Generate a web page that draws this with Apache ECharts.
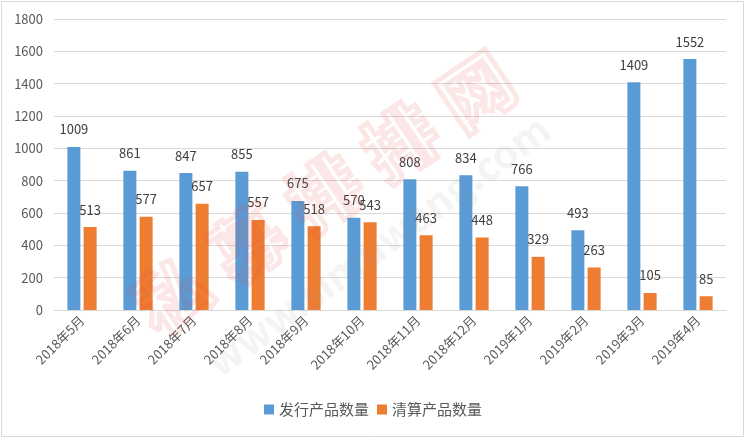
<!DOCTYPE html>
<html><head><meta charset="utf-8">
<script src="https://cdn.jsdelivr.net/npm/echarts@6/dist/echarts.min.js"></script>
<style>html,body{margin:0;padding:0;background:#fff}#c{width:746px;height:439px}</style>
</head><body><div id="c"></div>
<script>
const categories = ['2018年5月','2018年6月','2018年7月','2018年8月','2018年9月','2018年10月','2018年11月','2018年12月','2019年1月','2019年2月','2019年3月','2019年4月'];
const issued = [1009, 861, 847, 855, 675, 570, 808, 834, 766, 493, 1409, 1552];
const cleared = [513, 577, 657, 557, 518, 543, 463, 448, 329, 263, 105, 85];
const seriesNames = ['发行产品数量', '清算产品数量'];
const watermarkChars = ['私', '募', '排', '排', '网'];

const font = '"Noto Sans CJK SC", "DejaVu Sans", sans-serif';
const chart = echarts.init(document.getElementById('c'));
const ang = 34 * Math.PI / 180;
const wm = watermarkChars.map((ch, i) => ({
  type: 'text', x: 172 + i * 76, y: 295 - i * 51, rotation: ang, z: 100, silent: true,
  style: { text: ch, fontSize: 72, fontWeight: 'bold', fontFamily: font,
    align: 'center', verticalAlign: 'middle',
    fill: 'rgba(255,255,255,0)', stroke: 'rgba(235,70,70,0.13)', lineWidth: 5 }
}));
chart.setOption({
  animation: false,
  textStyle: { fontFamily: font },
  grid: { left: 54, right: 20, top: 19, bottom: 129 },
  legend: {
    bottom: 17, left: 'center', itemWidth: 10, itemHeight: 10, itemGap: 8,
    icon: 'rect',
    textStyle: { fontSize: 15, color: '#595959', fontFamily: font },
    data: seriesNames
  },
  xAxis: {
    type: 'category', data: categories,
    axisLine: { lineStyle: { color: '#D9D9D9' } },
    axisTick: { length: 5, lineStyle: { color: '#D9D9D9' } },
    axisLabel: { rotate: 45, fontSize: 13, color: '#595959', margin: 8, interval: 0 }
  },
  yAxis: {
    type: 'value', min: 0, max: 1800, interval: 200,
    axisLine: { show: false }, axisTick: { show: false },
    splitLine: { lineStyle: { color: '#D9D9D9' } },
    axisLabel: { fontSize: 13, color: '#595959', margin: 11, formatter: v => String(v) }
  },
  series: [
    { name: seriesNames[0], type: 'bar', data: issued, barWidth: 13, barGap: '25%',
      itemStyle: { color: '#5B9BD5' },
      label: { show: true, position: 'top', distance: 11, fontSize: 13, color: '#404040' } },
    { name: seriesNames[1], type: 'bar', data: cleared, barWidth: 13,
      itemStyle: { color: '#ED7D31' },
      label: { show: true, position: 'top', distance: 11, fontSize: 13, color: '#404040' } }
  ],
  graphic: [
    { type: 'rect', shape: { x: 1.5, y: 1.5, width: 742, height: 435 },
      style: { fill: 'none', stroke: '#D9D9D9', lineWidth: 1 }, silent: true, z: 0 }
  ].concat(wm).concat([
    { type: 'text', x: 378, y: 245, rotation: 36 * Math.PI / 180, z: 100, silent: true,
      style: { text: 'www.simuwang.com', fontSize: 40, fontWeight: 'bold', fontFamily: font,
        align: 'center', verticalAlign: 'middle',
        fill: 'rgba(150,150,150,0.10)' } }
  ])
});
</script></body></html>
